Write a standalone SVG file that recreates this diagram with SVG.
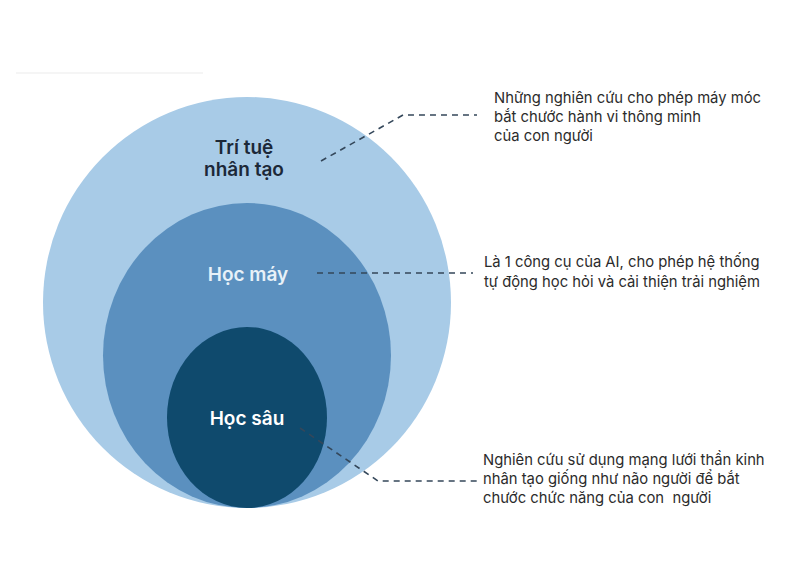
<svg xmlns="http://www.w3.org/2000/svg" width="800" height="571" viewBox="0 0 800 571">
<style>
.title{font-family:"Inter","Noto Sans",sans-serif;font-weight:600;font-size:19px;text-anchor:middle}
.desc{font-family:"Inter","Noto Sans",sans-serif;font-size:14.8px;fill:#2b2b2b;white-space:pre}
.conn{fill:none;stroke:#34475a;stroke-width:1.6;stroke-dasharray:6 5}
</style>
<rect width="800" height="571" fill="#ffffff"/>
<line x1="16" y1="73" x2="203" y2="73" stroke="#ececec" stroke-width="1.2"/>
<g id="ai">
<ellipse cx="247" cy="302.5" rx="204" ry="205.5" fill="#a8cbe7"/>
<text class="title" x="244" y="154" fill="#1c2838">Trí tuệ</text>
<text class="title" x="244" y="176" fill="#1c2838">nhân tạo</text>
</g>
<g id="ml">
<ellipse cx="247" cy="355.5" rx="144" ry="152.5" fill="#5b90bf"/>
<text class="title" x="248" y="281" fill="#e8f1f8">Học máy</text>
</g>
<g id="dl">
<ellipse cx="247" cy="417.5" rx="80" ry="90.5" fill="#0f4a6d"/>
<text class="title" x="247" y="425" fill="#ffffff">Học sâu</text>
</g>
<g id="connectors">
<polyline class="conn" points="321,161 403,115 477,115"/>
<polyline class="conn" points="317,273 473,273"/>
<polyline class="conn" points="300,428 378,481 477,481"/>
</g>
<g id="desc-ai">
<text class="desc" x="494" y="103">Những nghiên cứu cho phép máy móc</text>
<text class="desc" x="494" y="122">bắt chước hành vi thông minh</text>
<text class="desc" x="494" y="141">của con người</text>
</g>
<g id="desc-ml">
<text class="desc" x="484" y="267">Là 1 công cụ của AI, cho phép hệ thống</text>
<text class="desc" x="484" y="287">tự động học hỏi và cải thiện trải nghiệm</text>
</g>
<g id="desc-dl">
<text class="desc" x="483" y="465">Nghiên cứu sử dụng mạng lưới thần kinh</text>
<text class="desc" x="483" y="484">nhân tạo giống như não người để bắt</text>
<text class="desc" x="483" y="503">chước chức năng của con  người</text>
</g>
</svg>
